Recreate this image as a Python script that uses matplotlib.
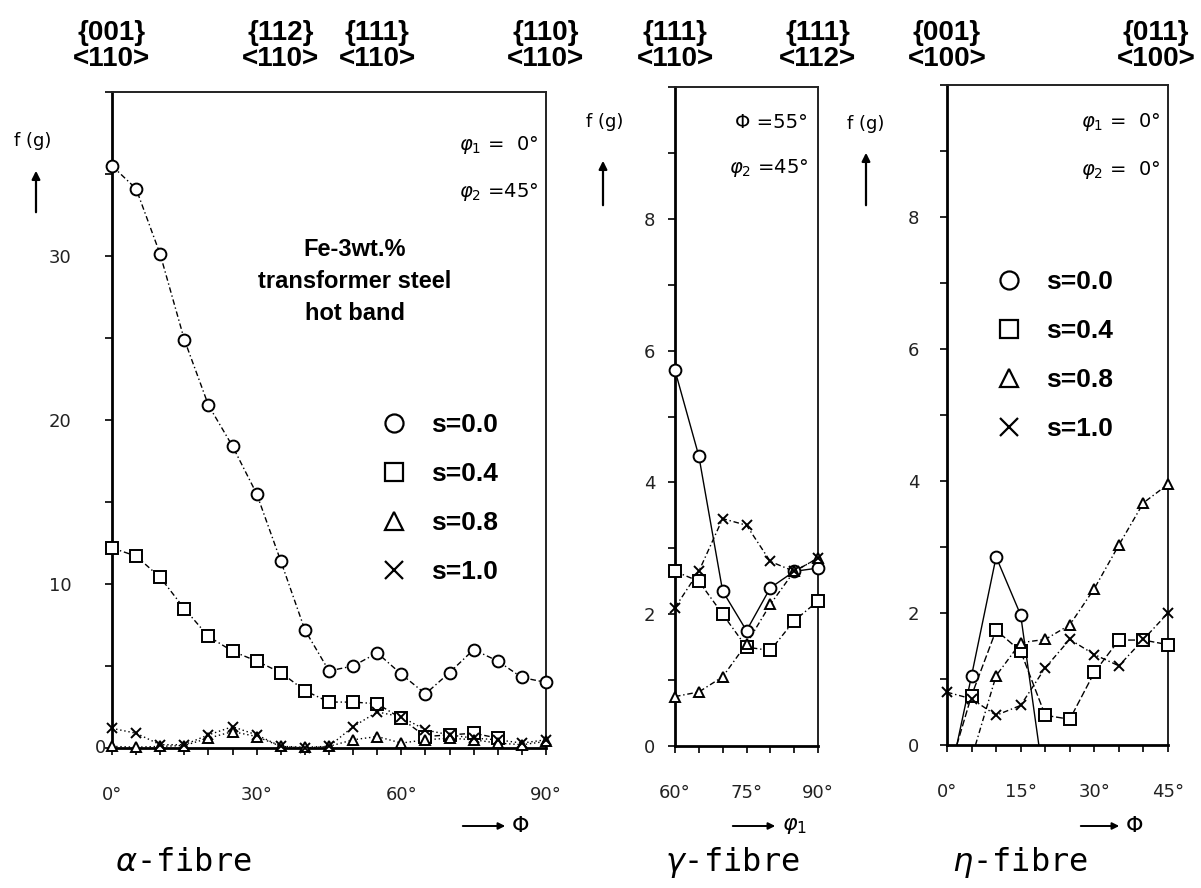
import numpy as np
import matplotlib.pyplot as plt
from matplotlib.lines import Line2D
from matplotlib.ticker import MultipleLocator
from matplotlib.transforms import blended_transform_factory

# ---- alpha-fibre (phi1 = 0, phi2 = 45) ----
alpha_phi = [0, 5, 10, 15, 20, 25, 30, 35, 40, 45, 50, 55, 60, 65, 70, 75, 80, 85, 90]
alpha_s00 = [35.5, 34.1, 30.1, 24.9, 20.9, 18.4, 15.5, 11.4, 7.2, 4.7,
             5.0, 5.8, 4.5, 3.3, 4.6, 6.0, 5.3, 4.3, 4.0]
alpha_s04 = [12.2, 11.7, 10.4, 8.5, 6.8, 5.9, 5.3, 4.6, 3.5, 2.8,
             2.8, 2.7, 1.8, 0.7, 0.8, 0.9, 0.6, np.nan, np.nan]
alpha_s08 = [0.1, 0.05, 0.1, 0.15, 0.6, 1.0, 0.7, 0.1, 0.05, 0.1,
             0.5, 0.7, 0.3, 0.5, 0.6, 0.5, 0.3, 0.2, 0.4]
alpha_s10 = [1.2, 0.9, 0.2, 0.2, 0.8, 1.3, 0.8, 0.1, 0.0, 0.1,
             1.3, 2.2, 1.9, 1.1, 0.8, 0.6, 0.5, 0.3, 0.5]

# ---- gamma-fibre (Phi = 55, phi2 = 45) ----
gamma_phi1 = [60, 65, 70, 75, 80, 85, 90]
gamma_s00 = [5.7, 4.4, 2.35, 1.75, 2.4, 2.65, 2.7]
gamma_s04 = [2.65, 2.5, 2.0, 1.5, 1.45, 1.9, 2.2]
gamma_s08 = [0.75, 0.82, 1.05, 1.55, 2.15, 2.65, 2.85]
gamma_s10 = [2.1, 2.65, 3.45, 3.35, 2.8, 2.65, 2.85]

# ---- eta-fibre (phi1 = 0, phi2 = 0) ----
eta_phi = [0, 5, 10, 15, 20, 25, 30, 35, 40, 45]
eta_s00 = [np.nan, 1.05, 2.85, 1.97, np.nan, np.nan, np.nan, np.nan, np.nan, np.nan]
eta_s04 = [np.nan, 0.75, 1.74, 1.42, 0.45, 0.39, 1.1, 1.59, 1.59, 1.52]
eta_s08 = [np.nan, np.nan, 1.05, 1.55, 1.6, 1.82, 2.37, 3.03, 3.67, 3.95]
eta_s10 = [0.8, 0.7, 0.45, 0.6, 1.17, 1.6, 1.37, 1.2, 1.6, 2.0]
# where the curves leave / reach the zero line
eta_s00_zero = [2.0, 18.7]
eta_s04_zero = [2.0]
eta_s08_zero = [5.8]

series_labels = ['s=0.0', 's=0.4', 's=0.8', 's=1.0']
markers = ['o', 's', '^', 'x']
msizes = [8.5, 8.5, 7, 7.5]

W, H = 1201, 888


def fx(p):
    return p / W


def fy(p):
    return 1 - p / H


def make_axes(fig, left, right, top, bottom):
    return fig.add_axes([fx(left), fy(bottom), fx(right) - fx(left), fy(top) - fy(bottom)])


dashdot = (0, (4, 2, 1, 2))
tick_font = dict(family=['DejaVu Sans'], size=13, color='#222222')


def draw(ax, x, y, k, ls=dashdot, line_x=None, line_y=None):
    if line_x is None:
        line_x, line_y = x, y
    ax.plot(line_x, line_y, color='black', lw=1.0, linestyle=ls, clip_on=False, zorder=2)
    ax.plot(x, y, linestyle='none', marker=markers[k], ms=msizes[k], mfc='white' if k < 3 else 'black',
            mec='black', mew=1.4, clip_on=False, zorder=3)


def style(ax, xlim, ylim, xmaj, xminor, ymaj, yminor, xlabels, ylabels, ypad):
    ax.set_xlim(*xlim)
    ax.set_ylim(*ylim)
    ax.set_xticks(xmaj)
    ax.set_xticklabels(xlabels)
    ax.xaxis.set_minor_locator(MultipleLocator(xminor))
    ax.set_yticks(ymaj)
    ax.set_yticklabels(ylabels)
    ax.yaxis.set_minor_locator(MultipleLocator(yminor))
    ax.tick_params(which='both', direction='out', length=5, width=1.2, color='black')
    ax.tick_params(axis='x', pad=22)
    ax.tick_params(axis='y', pad=ypad)
    for lab in ax.get_xticklabels() + ax.get_yticklabels():
        lab.set_fontfamily(tick_font['family'])
        lab.set_fontsize(tick_font['size'])
        lab.set_color(tick_font['color'])
    for s in ['left', 'bottom']:
        ax.spines[s].set_linewidth(2.0)
    for s in ['top', 'right']:
        ax.spines[s].set_linewidth(1.4)
        ax.spines[s].set_color('#222222')
    ax.patch.set_alpha(0)


fig = plt.figure(figsize=(12.01, 8.88), dpi=100)

# ---------------- alpha fibre ----------------
ax1 = make_axes(fig, 112, 546, 92, 748)
draw(ax1, alpha_phi, alpha_s00, 0)
draw(ax1, alpha_phi, alpha_s04, 1)
draw(ax1, alpha_phi, alpha_s08, 2, ls=(0, (1, 2)))
draw(ax1, alpha_phi, alpha_s10, 3, ls=(0, (1, 2)))
style(ax1, (0, 90), (0, 40), [0, 30, 60, 90], 5, [0, 10, 20, 30], 5,
      ['0°', '30°', '60°', '90°'], ['', '10', '20', '30'], 24)
ax1.annotate('0', xy=(0, 0), xytext=(-4, 0), textcoords='offset points',
             ha='right', va='center', annotation_clip=False, **tick_font)

# ---------------- gamma fibre ----------------
ax2 = make_axes(fig, 675, 818, 87, 746)
draw(ax2, gamma_phi1, gamma_s00, 0, ls='-')
draw(ax2, gamma_phi1, gamma_s04, 1)
draw(ax2, gamma_phi1, gamma_s08, 2)
draw(ax2, gamma_phi1, gamma_s10, 3)
style(ax2, (60, 90), (0, 10), [60, 75, 90], 5, [0, 2, 4, 6, 8], 1,
      ['60°', '75°', '90°'], ['0', '2', '4', '6', '8'], 9)

# ---------------- eta fibre ----------------
ax3 = make_axes(fig, 947, 1168, 85, 745)
ok00 = [i for i, v in enumerate(eta_s00) if not np.isnan(v)]
draw(ax3, eta_phi, eta_s00, 0, ls='-',
     line_x=[eta_s00_zero[0]] + [eta_phi[i] for i in ok00] + [eta_s00_zero[1]],
     line_y=[0] + [eta_s00[i] for i in ok00] + [0])
ok04 = [i for i, v in enumerate(eta_s04) if not np.isnan(v)]
draw(ax3, eta_phi, eta_s04, 1, ls=(0, (5, 2)),
     line_x=eta_s04_zero + [eta_phi[i] for i in ok04],
     line_y=[0] + [eta_s04[i] for i in ok04])
ok08 = [i for i, v in enumerate(eta_s08) if not np.isnan(v)]
draw(ax3, eta_phi, eta_s08, 2,
     line_x=eta_s08_zero + [eta_phi[i] for i in ok08],
     line_y=[0] + [eta_s08[i] for i in ok08])
draw(ax3, eta_phi, eta_s10, 3)
style(ax3, (0, 45), (0, 10), [0, 15, 30, 45], 5, [0, 2, 4, 6, 8], 1,
      ['0°', '15°', '30°', '45°'], ['0', '2', '4', '6', '8'], 15)

# ---------------- orientation labels on top ----------------
bold_font = dict(family=['Liberation Sans', 'DejaVu Sans'], weight='bold', size=20)
tops = [(ax1, 0, '{001}', '<110>'), (ax1, 35, '{112}', '<110>'), (ax1, 55, '{111}', '<110>'),
        (ax1, 90, '{110}', '<110>'), (ax2, 60, '{111}', '<110>'), (ax2, 90, '{111}', '<112>'),
        (ax3, 0, '{001}', '<100>'), (ax3, 45, '{011}', '<100>')]
for ax, xv, l1, l2 in tops:
    tr = blended_transform_factory(ax.transData, fig.transFigure)
    xs = xv
    if ax is ax3 and xv == 45:
        xs = 42.6
    ax.text(xs, fy(33), l1, transform=tr, ha='center', va='center', **bold_font)
    ax.text(xs, fy(59), l2, transform=tr, ha='center', va='center', **bold_font)

# ---------------- f(g) labels with arrows ----------------
for xt, xa, y_t, y0, y1 in [(33, 36, 141, 215, 168), (605, 603, 122, 208, 158), (866, 866, 124, 208, 150)]:
    fig.text(fx(xt), fy(y_t), 'f (g)', ha='center', va='center', family='DejaVu Sans', size=13)
    ax1.annotate('', xy=(fx(xa), fy(y1)), xytext=(fx(xa), fy(y0)), xycoords='figure fraction',
                 textcoords='figure fraction', annotation_clip=False,
                 arrowprops=dict(arrowstyle='-|>', lw=1.6, color='black', mutation_scale=12))

# ---------------- inner parameter texts ----------------
ptxt = dict(family='DejaVu Sans', size=14, ha='right', va='center')
fig.text(fx(538), fy(145), r'$\varphi_1$ =  0°', **ptxt)
fig.text(fx(538), fy(192), r'$\varphi_2$ =45°', **ptxt)
fig.text(fx(808), fy(122), 'Φ =55°', **ptxt)
fig.text(fx(808), fy(168), r'$\varphi_2$ =45°', **ptxt)
fig.text(fx(1160), fy(122), r'$\varphi_1$ =  0°', **ptxt)
fig.text(fx(1160), fy(170), r'$\varphi_2$ =  0°', **ptxt)

fig.text(fx(355), fy(282), 'Fe-3wt.%\ntransformer steel\nhot band', ha='center', va='center',
         multialignment='center', linespacing=1.5, family=['Liberation Sans', 'DejaVu Sans'],
         weight='bold', size=17)

# ---------------- legends ----------------
handles = [Line2D([], [], linestyle='none', marker=markers[k], ms=13, mfc='white', mec='black', mew=1.6)
           for k in range(4)]
leg_prop = dict(family=['Liberation Sans', 'DejaVu Sans'], weight='bold', size=19)
for ax, (lx, ly) in [(ax1, (368, 400)), (ax3, (983, 257))]:
    leg = ax.legend(handles, series_labels, loc='upper left', bbox_to_anchor=(fx(lx), fy(ly)),
                    bbox_transform=fig.transFigure, frameon=False, prop=leg_prop,
                    handlelength=1.0, handletextpad=0.9, labelspacing=0.95, borderpad=0)

# ---------------- axis direction labels ----------------
ax_font = dict(family='DejaVu Sans', size=16, va='center')
for x0, x1, lab in [(460, 508, 'Φ'), (730, 778, r'$\varphi_1$'), (1078, 1122, 'Φ')]:
    ax1.annotate('', xy=(fx(x1), fy(826)), xytext=(fx(x0), fy(826)), xycoords='figure fraction',
                 textcoords='figure fraction', annotation_clip=False,
                 arrowprops=dict(arrowstyle='-|>', lw=1.4, color='black', mutation_scale=10))
    fig.text(fx(x1 + 4), fy(826), lab, ha='left', **ax_font)

fib_font = dict(family='DejaVu Sans Mono', size=23, va='center', ha='left')
fig.text(fx(115), fy(862), r'$\alpha$-fibre', **fib_font)
fig.text(fx(665), fy(862), r'$\gamma$-fibre', **fib_font)
fig.text(fx(952), fy(862), r'$\eta$-fibre', **fib_font)

fig.savefig('out.png', dpi=100)
